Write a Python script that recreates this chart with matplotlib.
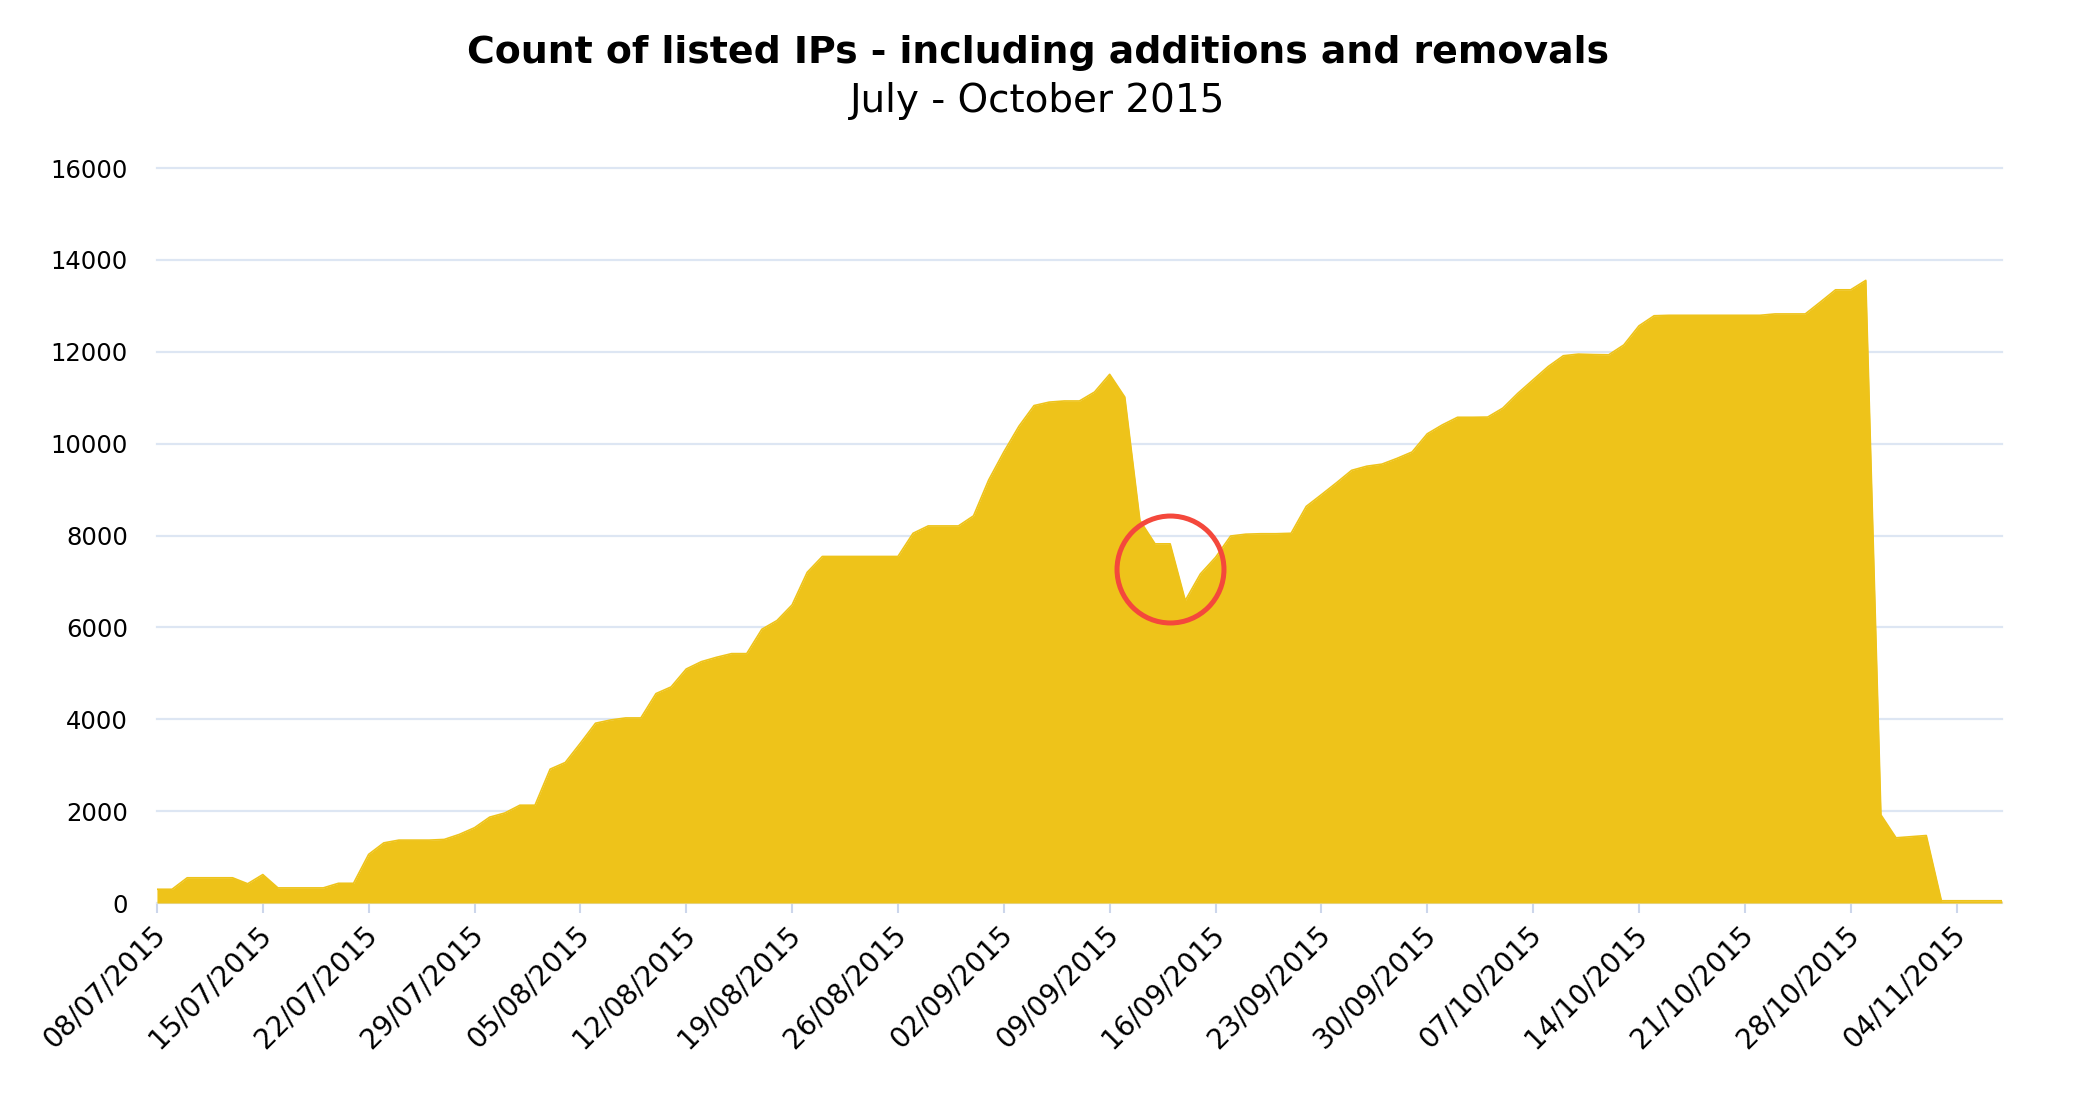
import matplotlib
matplotlib.use("Agg")
import matplotlib.pyplot as plt
import matplotlib.transforms as mtransforms
import numpy as np
import pandas as pd

# daily count of listed IPs, 08/07/2015 -> 07/11/2015
july = [300, 300, 550, 550, 550, 550, 420, 620, 330, 330, 330, 330, 430, 430,
        1060, 1310, 1370, 1370, 1370, 1385, 1495, 1640, 1870, 1960]
august = [2130, 2130, 2915, 3060, 3480, 3915, 3985, 4030, 4030, 4560, 4705,
          5095, 5255, 5350, 5430, 5430, 5960, 6150, 6490, 7200, 7545, 7545,
          7545, 7545, 7545, 7545, 8050, 8210, 8210, 8210, 8430]
september = [9210, 9820, 10380, 10830, 10905, 10930, 10930, 11125, 11510,
             11015, 8330, 7820, 7820, 6585, 7165, 7525, 7990, 8030, 8040,
             8040, 8050, 8635, 8890, 9150, 9420, 9510, 9555, 9680, 9820, 10215]
october = [10410, 10575, 10575, 10580, 10775, 11100, 11390, 11680, 11915,
           11950, 11940, 11935, 12150, 12565, 12785, 12795, 12795, 12795,
           12795, 12795, 12795, 12795, 12825, 12825, 12825, 13085, 13350,
           13350, 13555, 1920, 1420]
november = [1445, 1470, 50, 50, 50, 50, 50]

start_date = "2015-07-08"
highlight_date = "2015-09-13"
highlight_value = 7265
y_ticks = [0, 2000, 4000, 6000, 8000, 10000, 12000, 14000, 16000]

title = "Count of listed IPs - including additions and removals"
subtitle = "July - October 2015"

counts = np.array(july + august + september + october + november)
dates = pd.date_range(start_date, periods=len(counts), freq="D")

fill_color = "#eec31a"
grid_color = "#dde6f3"
tick_color = "#ccd6eb"

plt.rcParams["font.family"] = ["DejaVu Sans"]

fig = plt.figure(figsize=(20.76, 10.95), dpi=100)
ax = fig.add_axes([0.0756, 0.1753, 0.8887, 0.6712])

ax.fill_between(dates, counts, 0, color=fill_color, linewidth=0)
ax.plot(dates, counts, color=fill_color, linewidth=1.2)

# red ring around the September dip
ax.plot(pd.Timestamp(highlight_date), highlight_value, marker="o",
        markersize=77, markerfacecolor="none", markeredgecolor="#f4483c",
        markeredgewidth=3.6, zorder=5)

ax.set_xlim(dates[0], dates[-1])
ax.set_ylim(0, 16000)

ax.set_yticks(y_ticks)
ax.set_yticklabels([str(v) for v in y_ticks])
ax.tick_params(axis="y", length=0, pad=21, labelsize=17.5, colors="black")
ax.yaxis.grid(True, color=grid_color, linewidth=1.6)
for gl in ax.get_ygridlines():
    gl.set_clip_on(False)
ax.set_axisbelow(True)

ax.set_xticks(dates[::7])
ax.set_xticklabels([d.strftime("%d/%m/%Y") for d in dates[::7]])
ax.tick_params(axis="x", length=7.5, width=1.5, color=tick_color,
               pad=12, labelsize=20)
offset = mtransforms.ScaledTranslation(3 / 72, 0, fig.dpi_scale_trans)
for lbl in ax.get_xticklabels():
    lbl.set_rotation(45)
    lbl.set_ha("right")
    lbl.set_va("center")
    lbl.set_rotation_mode("anchor")
    lbl.set_transform(lbl.get_transform() + offset)

for side in ["top", "right", "left", "bottom"]:
    ax.spines[side].set_visible(False)

fig.text(0.5, 1 - 53 / 1095, title, ha="center", va="center",
         fontsize=27.3, fontweight="bold")
fig.text(0.5, 1 - 101 / 1095, subtitle, ha="center", va="center",
         fontsize=28)

plt.savefig("out.png", dpi=100)
plt.close(fig)
